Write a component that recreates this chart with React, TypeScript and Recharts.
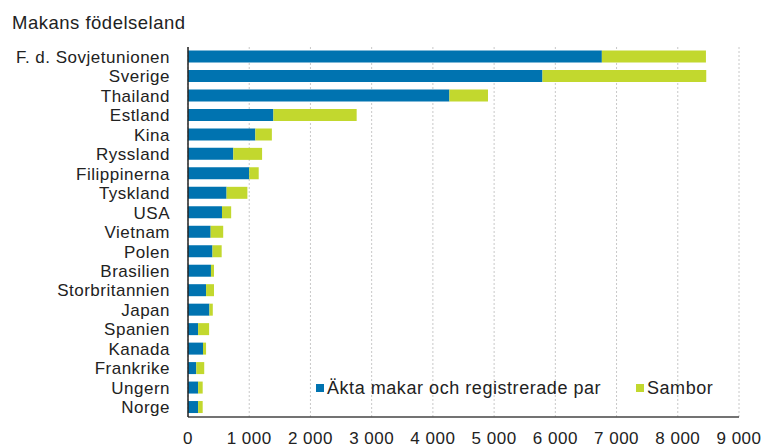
import React from 'react';
import {
  BarChart,
  Bar,
  XAxis,
  YAxis,
  CartesianGrid,
  Legend,
} from 'recharts';

const countries = [
  'F. d. Sovjetunionen',
  'Sverige',
  'Thailand',
  'Estland',
  'Kina',
  'Ryssland',
  'Filippinerna',
  'Tyskland',
  'USA',
  'Vietnam',
  'Polen',
  'Brasilien',
  'Storbritannien',
  'Japan',
  'Spanien',
  'Kanada',
  'Frankrike',
  'Ungern',
  'Norge',
];

const married = [6760, 5790, 4270, 1395, 1100, 740, 1000, 630, 555, 370, 400, 375, 295, 350, 165, 245, 135, 165, 165];
const cohabiting = [1700, 2675, 630, 1360, 270, 470, 155, 340, 150, 205, 150, 50, 130, 55, 180, 50, 130, 75, 75];

const xTicks = [0, 1000, 2000, 3000, 4000, 5000, 6000, 7000, 8000, 9000];

const seriesNames = ['Äkta makar och registrerade par', 'Sambor'];
const seriesColors = ['#0073B0', '#C2D82E'];
const titleText = 'Makans födelseland';

const data = countries.map((c, i) => ({
  country: c,
  married: married[i],
  cohabiting: cohabiting[i],
}));

const fmt = (v: number) => String(v).replace(/\B(?=(\d{3})+(?!\d))/g, ' ');

const renderLegend = () => (
  <div style={{ position: 'relative', width: 420, height: 22 }}>
    {seriesNames.map((name, i) => (
      <div
        key={name}
        style={{
          position: 'absolute',
          left: i === 0 ? 0 : 320,
          top: 0,
          display: 'flex',
          alignItems: 'center',
          whiteSpace: 'nowrap',
          fontSize: 18,
          letterSpacing: 0.55,
          lineHeight: '22px',
          color: '#222',
        }}
      >
        <span
          style={{
            display: 'inline-block',
            width: 8,
            height: 8,
            background: seriesColors[i],
            marginRight: 3,
          }}
        />
        <span>{name}</span>
      </div>
    ))}
  </div>
);

export default function App() {
  return (
    <div
      style={{
        position: 'absolute',
        left: 0,
        top: 0,
        width: 763,
        height: 447,
        background: '#fff',
        fontFamily: '"Liberation Sans", Arial, sans-serif',
        overflow: 'hidden',
      }}
    >
      <div
        style={{
          position: 'absolute',
          left: 12,
          top: 13,
          fontSize: 18.5,
          lineHeight: '20px',
          letterSpacing: 0.5,
          color: '#222',
          whiteSpace: 'nowrap',
        }}
      >
        {titleText}
      </div>
      <BarChart
        width={763}
        height={447}
        data={data}
        layout="vertical"
        margin={{ top: 47, right: 24, left: 0, bottom: 0 }}
        barCategoryGap="18%"
      >
        <CartesianGrid
          horizontal={false}
          vertical={true}
          stroke="#c8c8c8"
          strokeDasharray="2 2"
        />
        <XAxis
          xAxisId="top"
          orientation="top"
          type="number"
          domain={[0, 9000]}
          ticks={xTicks}
          height={0}
          tick={false}
          tickLine={false}
          axisLine={{ stroke: '#c4c4c4', strokeWidth: 1.5 }}
        />
        <YAxis
          yAxisId="right"
          orientation="right"
          type="category"
          dataKey="country"
          width={0}
          tick={false}
          tickLine={false}
          axisLine={{ stroke: '#c4c4c4', strokeWidth: 1.5 }}
        />
        <XAxis
          type="number"
          domain={[0, 9000]}
          ticks={xTicks}
          tickFormatter={fmt}
          height={30}
          tickLine={false}
          tickSize={0}
          tickMargin={15}
          axisLine={{ stroke: '#444', strokeWidth: 1.5 }}
          tick={{ fontSize: 17, fill: '#222', letterSpacing: 0.5 }}
          allowDataOverflow
        />
        <YAxis
          type="category"
          dataKey="country"
          width={188}
          tickLine={false}
          tickSize={0}
          tickMargin={18}
          interval={0}
          axisLine={{ stroke: '#222', strokeWidth: 1.5 }}
          tick={{ fontSize: 17, fill: '#222', letterSpacing: 0.5 }}
        />
        <Legend
          layout="horizontal"
          verticalAlign="middle"
          align="center"
          content={renderLegend}
          wrapperStyle={{ position: 'absolute', left: 316, top: 377, width: 420 }}
        />
        <Bar
          dataKey="married"
          name={seriesNames[0]}
          stackId="a"
          fill={seriesColors[0]}
          isAnimationActive={false}
        />
        <Bar
          dataKey="cohabiting"
          name={seriesNames[1]}
          stackId="a"
          fill={seriesColors[1]}
          isAnimationActive={false}
        />
      </BarChart>
    </div>
  );
}
